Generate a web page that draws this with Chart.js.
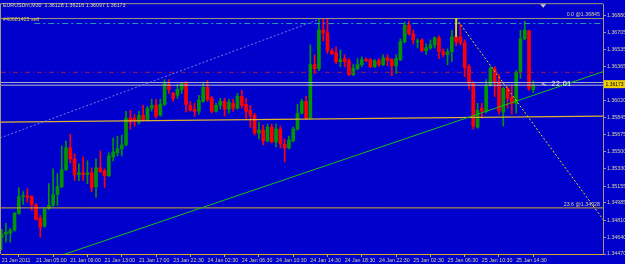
<!DOCTYPE html>
<html>
<head>
<meta charset="utf-8">
<script src="https://cdn.jsdelivr.net/npm/chart.js@4.4.0/dist/chart.umd.min.js"></script>
<style>
  html,body{margin:0;padding:0;background:#0000cc;overflow:hidden;}
  #chart{display:block;}
</style>
</head>
<body>
<canvas id="chart" width="625" height="264"></canvas>
<script>
// ---------------------------
// Data (EURUSDm, M30 bars)
// ---------------------------
const opens = [
  1.3464,1.3467,1.3468,1.3471,1.3488,1.3505,1.3506,1.3505,1.3496,1.3483,
  1.3475,1.3493,1.3496,1.3507,1.3515,1.3532,1.3554,1.3543,1.3527,1.3529,
  1.3527,1.3529,1.3515,1.3534,1.3531,1.3526,1.3545,1.3549,1.3553,1.3557,
  1.3584,1.3584,1.3580,1.3587,1.3582,1.3594,1.3597,1.3587,1.3598,1.3618,
  1.3609,1.3607,1.3613,1.3620,1.3597,1.3593,1.3591,1.3601,1.3615,1.3604,
  1.3591,1.3597,1.3601,1.3593,1.3599,1.3594,1.3606,1.3598,1.3592,1.3587,
  1.3569,1.3572,1.3561,1.3575,1.3560,1.3573,1.3558,1.3554,1.3561,1.3573,
  1.3589,1.3601,1.3584,1.3638,1.3634,1.3673,1.3670,1.3652,1.3650,1.3641,
  1.3644,1.3642,1.3628,1.3634,1.3638,1.3643,1.3643,1.3636,1.3642,1.3638,
  1.3645,1.3643,1.3637,1.3643,1.3661,1.3678,1.3669,1.3661,1.3663,1.3652,
  1.3655,1.3658,1.3665,1.3651,1.3648,1.3651,1.3666,1.3666,1.3660,1.3636,
  1.3619,1.3575,1.3594,1.3591,1.3617,1.3634,1.3621,1.3590,1.3614,1.3605,
  1.3599,1.3630,1.3664,1.3672,1.36128
];
const highs = [
  1.3472,1.3478,1.3473,1.3489,1.3514,1.3510,1.3513,1.3506,1.3498,1.3486,
  1.3494,1.3518,1.3533,1.3528,1.3556,1.3561,1.3568,1.3548,1.3538,1.3545,
  1.3541,1.3534,1.3543,1.3551,1.3533,1.3549,1.3564,1.3566,1.3567,1.3591,
  1.3592,1.3588,1.3591,1.3597,1.3596,1.3603,1.3603,1.3603,1.3623,1.3623,
  1.3610,1.3618,1.3620,1.3621,1.3601,1.3599,1.3607,1.3620,1.3622,1.3606,
  1.3599,1.3604,1.3604,1.3603,1.3603,1.3609,1.3612,1.3604,1.3597,1.3589,
  1.3580,1.3577,1.3578,1.3578,1.3578,1.3576,1.3563,1.3566,1.3575,1.3598,
  1.3603,1.3606,1.3658,1.3648,1.3684,1.3684,1.3684,1.3654,1.3656,1.3653,
  1.3648,1.3644,1.3638,1.3644,1.3646,1.3645,1.3644,1.3643,1.3644,1.3648,
  1.3648,1.3644,1.3648,1.3664,1.3681,1.3682,1.3673,1.3664,1.3664,1.3659,
  1.3663,1.3666,1.3667,1.3654,1.3654,1.3673,1.36845,1.3679,1.3663,1.3638,
  1.3621,1.3599,1.3599,1.3623,1.3636,1.3636,1.3628,1.3615,1.3616,1.3617,
  1.3632,1.3673,1.3682,1.3673,1.36216
];
const lows = [
  1.3451,1.3459,1.3459,1.3470,1.3487,1.3497,1.3499,1.3491,1.3481,1.3464,
  1.3474,1.3492,1.3495,1.3496,1.3514,1.3531,1.3539,1.3521,1.3521,1.3521,
  1.3518,1.3510,1.3504,1.3529,1.3514,1.3525,1.3541,1.3546,1.3546,1.3556,
  1.3573,1.3576,1.3578,1.3581,1.3581,1.3591,1.3584,1.3586,1.3597,1.3609,
  1.3601,1.3604,1.3609,1.3590,1.3591,1.3586,1.3588,1.3600,1.3601,1.3589,
  1.3590,1.3593,1.3586,1.3589,1.3591,1.3593,1.3594,1.3583,1.3575,1.3567,
  1.3563,1.3557,1.3560,1.3559,1.3555,1.3554,1.3540,1.3553,1.3560,1.3572,
  1.3588,1.3583,1.3583,1.3629,1.3632,1.3662,1.3649,1.3648,1.3639,1.3636,
  1.3636,1.3627,1.3627,1.3633,1.3636,1.3641,1.3635,1.3635,1.3636,1.3637,
  1.3637,1.3627,1.3629,1.3642,1.3660,1.3668,1.3659,1.3655,1.3651,1.3648,
  1.3653,1.3655,1.3644,1.3646,1.3638,1.3641,1.3657,1.3658,1.3626,1.3613,
  1.3573,1.3574,1.3584,1.3589,1.3616,1.3606,1.3588,1.3576,1.3594,1.3588,
  1.3589,1.3624,1.3663,1.3612,1.36097
];
const closes = [
  1.3467,1.3469,1.3471,1.3488,1.3505,1.3506,1.3504,1.3497,1.3482,1.3474,
  1.3492,1.3496,1.3507,1.3515,1.3532,1.3554,1.3543,1.3527,1.3529,1.3527,
  1.3529,1.3514,1.3534,1.3530,1.3526,1.3546,1.3550,1.3553,1.3557,1.3584,
  1.3580,1.3581,1.3587,1.3582,1.3594,1.3597,1.3586,1.3598,1.3619,1.3613,
  1.3604,1.3613,1.3619,1.3598,1.3592,1.3591,1.3602,1.3615,1.3603,1.3591,
  1.3597,1.3601,1.3593,1.3600,1.3594,1.3606,1.3597,1.3591,1.3587,1.3569,
  1.3572,1.3561,1.3575,1.3560,1.3573,1.3558,1.3554,1.3562,1.3573,1.3589,
  1.3601,1.3584,1.3638,1.3634,1.3673,1.3670,1.3652,1.3649,1.3641,1.3643,
  1.3641,1.3628,1.3634,1.3638,1.3643,1.3642,1.3636,1.3642,1.3638,1.3645,
  1.3642,1.3637,1.3644,1.3661,1.3678,1.3669,1.3663,1.3662,1.3652,1.3655,
  1.3658,1.3665,1.3651,1.3648,1.3651,1.3666,1.3661,1.3660,1.3635,1.3619,
  1.3576,1.3592,1.3591,1.3617,1.3634,1.3620,1.3591,1.3614,1.3604,1.3599,
  1.3630,1.3664,1.3673,1.3614,1.36173
];

const timeTickIdx = [0,8,16,24,32,40,48,56,64,72,80,88,96,104,112,120];
const timeTickLabels = [
  '21 Jan 2011','21 Jan 05:00','21 Jan 09:00','21 Jan 13:00','21 Jan 17:00','23 Jan 22:30',
  '24 Jan 02:30','24 Jan 06:30','24 Jan 10:30','24 Jan 14:30','24 Jan 18:30','24 Jan 22:30',
  '25 Jan 02:30','25 Jan 06:30','25 Jan 10:30','25 Jan 14:30'
];
const priceTicks = [
  1.36880,1.36705,1.36535,1.36365,1.36020,1.35845,1.35675,1.35500,
  1.35330,1.35155,1.34985,1.34810,1.34640,1.34470
];

// horizontal objects on the chart
const fibPrices = [1.36845, 1.34935];
const fibLabels = ['0.0 @1.36845', '23.6 @1.34928'];
const orderPrice = [1.36795];
const stopPrice = [1.36303];
const quotePrices = [1.3620, 1.36173];     // ask, bid
const distanceLabel = ['<  22.01'];

// sloped objects: [x1, x2] in bar index, [y1, y2] in price
const goldTrendX = [-0.4, 140.3],  goldTrendY = [1.3580, 1.3586];
const greenTrendX = [10, 141],     greenTrendY = [1.34399, 1.36320];
const blueTrendX = [-0.4, 73.6],   blueTrendY = [1.3564, 1.36830];
const fibDiagX = [106, 141],       fibDiagY = [1.36845, 1.34776];
const fibStemX = [106, 106],       fibStemY = [1.36845, 1.3666];

const title = 'EURUSDm,M30  1.36128 1.36216 1.36097 1.36173';
const orderLabel = '#40681425 sell';

// ---------------------------
// Look
// ---------------------------
const BG = '#0000cc';
const BULL = '#009600', BEAR = '#ff0000';
const TXT = '#d8d0a0';
const GOLD = '#d4ac28';
const FONT = '"Liberation Sans", Arial, sans-serif';
const X_MIN = -0.163, X_MAX = 140.26;
const Y_MIN = 1.3447, Y_MAX = 1.3699;

const idx = closes.map((_, i) => i);
const up = idx.map(i => closes[i] >= opens[i]);
const colors = idx.map(i => up[i] ? BULL : BEAR);

function segment(xs, ys, color, dash, width){
  return {
    type:'line',
    data: xs.map((x, k) => ({ x, y: ys[k] })),
    borderColor: color, borderWidth: width || 1, borderDash: dash || [],
    pointRadius: 0, fill: false, tension: 0
  };
}
function level(price, color, dash, from){
  return segment([from === undefined ? X_MIN : from, X_MAX], [price, price], color, dash);
}

// first dataset ends up on top
const datasets = [
  segment(fibDiagX, fibDiagY, '#e8e000', [2,2]),
  segment(fibStemX, fibStemY, '#e8e000'),
  segment(greenTrendX, greenTrendY, '#14c014', [], 1),
  segment(blueTrendX, blueTrendY, '#7878e8', [2,2]),
  level(quotePrices[0], '#aeb0c8'),
  level(quotePrices[1], '#bcbcd0'),
  level(stopPrice[0], '#9a1a50', [5,3,1,3]),
  level(orderPrice[0], '#2c98a8', [6,3,2,3], 7.6),
  level(fibPrices[0], '#a0987c'),
  level(fibPrices[1], GOLD),
  segment(goldTrendX, goldTrendY, '#dcb030', [], 1.3),
  {
    type:'bar', grouped:false, barThickness:3, minBarLength:1,
    data: idx.map(i => ({ x:i, y:[opens[i], closes[i]] })),
    backgroundColor: colors, borderWidth:0
  },
  {
    type:'bar', grouped:false, barThickness:1,
    data: idx.map(i => ({ x:i, y:[lows[i], highs[i]] })),
    backgroundColor: colors, borderWidth:0
  }
];

// ---------------------------
// Background, frame and chart texts
// ---------------------------
const terminal = {
  id:'terminal',
  beforeDraw(chart){
    const { ctx, width, height } = chart;
    ctx.save(); ctx.fillStyle = BG; ctx.fillRect(0, 0, width, height); ctx.restore();
  },
  afterDraw(chart){
    const { ctx, chartArea:a, scales:{ x, y } } = chart;
    ctx.save();
    ctx.strokeStyle = '#a09880'; ctx.lineWidth = 1;
    ctx.beginPath(); ctx.moveTo(a.left - 0.5, a.bottom); ctx.lineTo(a.left - 0.5, a.top - 0.5); ctx.lineTo(a.right, a.top - 0.5); ctx.stroke();

    ctx.font = '5.3px ' + FONT; ctx.textBaseline = 'middle'; ctx.textAlign = 'left';
    ctx.fillStyle = '#e0d8b0';
    ctx.fillText(title, 3, 6);
    ctx.fillStyle = '#e8d048';
    ctx.fillText(orderLabel, 3, y.getPixelForValue(orderPrice[0]) - 4);

    ctx.textAlign = 'right'; ctx.textBaseline = 'bottom'; ctx.fillStyle = TXT;
    fibPrices.forEach((p, k) => ctx.fillText(fibLabels[k], a.right - 3, y.getPixelForValue(p) - 1));

    ctx.font = '7px "DejaVu Sans", sans-serif'; ctx.textAlign = 'left'; ctx.textBaseline = 'middle';
    ctx.fillStyle = '#e8e8f8';
    ctx.fillText(distanceLabel[0], x.getPixelForValue(125.8), y.getPixelForValue(quotePrices[1]) - 0.5);

    // current price box on the axis
    const last = closes[closes.length - 1];
    const py = y.getPixelForValue(last) - 1;
    ctx.fillStyle = '#f0d000';
    ctx.fillRect(a.right + 1, py - 4, chart.width - a.right - 1, 8);
    ctx.fillStyle = '#000000'; ctx.font = '5px ' + FONT;
    ctx.fillText(last.toFixed(5), a.right + 2.5, py + 0.3);

    // chart shift marker
    const sx = x.getPixelForValue(126.3);
    ctx.fillStyle = '#c8c8d0';
    ctx.beginPath(); ctx.moveTo(sx - 3, a.top); ctx.lineTo(sx + 3, a.top); ctx.lineTo(sx, a.top + 3.5); ctx.closePath(); ctx.fill();
    ctx.restore();
  }
};

new Chart(document.getElementById('chart'), {
  type:'bar',
  data:{ datasets },
  plugins:[terminal],
  options:{
    responsive:false, animation:false, devicePixelRatio:1,
    layout:{ padding:{ top:2, left:1, right:0, bottom:0 } },
    plugins:{ legend:{ display:false }, tooltip:{ enabled:false } },
    scales:{
      x:{
        type:'linear', min:X_MIN, max:X_MAX, offset:false,
        grid:{ drawOnChartArea:false, drawTicks:true, tickLength:3, color:GOLD },
        border:{ display:true, color:GOLD, width:1 },
        afterBuildTicks: s => { s.ticks = timeTickIdx.map(v => ({ value:v })); },
        afterFit: s => { s.height = 10; },
        ticks:{
          autoSkip:false, maxRotation:0, minRotation:0, align:'start', padding:0,
          color:TXT, font:{ family:FONT, size:5.3 },
          callback:(v, i) => timeTickLabels[i]
        }
      },
      y:{
        type:'linear', position:'right', min:Y_MIN, max:Y_MAX,
        grid:{ drawOnChartArea:false, drawTicks:true, tickLength:3, color:'#a89878' },
        border:{ display:true, color:'#a89878', width:1 },
        afterBuildTicks: s => { s.ticks = priceTicks.map(v => ({ value:v })); },
        afterFit: s => { s.width = 22; },
        ticks:{
          padding:1, color:TXT, font:{ family:FONT, size:5.3 },
          callback: v => v.toFixed(5)
        }
      }
    }
  }
});
</script>
</body>
</html>
